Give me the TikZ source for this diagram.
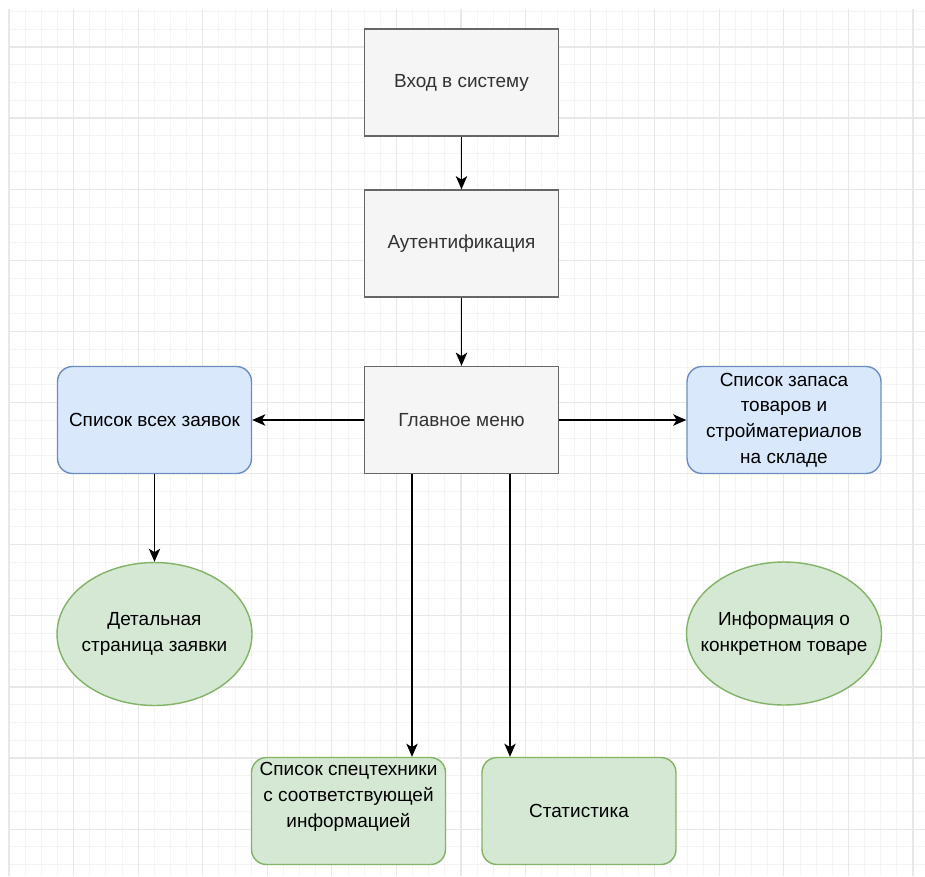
\documentclass[tikz,border=0pt]{standalone}
\usepackage{fontspec}
\setmainfont{Liberation Sans}
\usepackage{tikz}
\usetikzlibrary{shapes.geometric,arrows.meta,positioning}
\definecolor{grisBord}{HTML}{666666}
\definecolor{grisFond}{HTML}{F5F5F5}
\definecolor{grisTexte}{HTML}{333333}
\definecolor{bleuBord}{HTML}{6C8EBF}
\definecolor{bleuFond}{HTML}{DAE8FC}
\definecolor{vertBord}{HTML}{82B366}
\definecolor{vertFond}{HTML}{D5E8D4}
\definecolor{grilleFine}{HTML}{F4F4F4}
\definecolor{grilleForte}{HTML}{E8E8E8}

\tikzset{
  etape/.style={draw=grisBord, fill=grisFond, text=grisTexte, line width=0.8pt,
                minimum width=3.88cm, minimum height=2.14cm, align=center},
  menubleu/.style={draw=bleuBord, fill=bleuFond, line width=0.8pt, rounded corners=0.3cm,
                minimum width=3.88cm, minimum height=2.14cm, align=center},
  menuvert/.style={draw=vertBord, fill=vertFond, line width=0.8pt, rounded corners=0.3cm,
                minimum width=3.88cm, minimum height=2.14cm, align=center},
  page/.style={ellipse, draw=vertBord, fill=vertFond, line width=0.8pt,
                minimum width=3.9cm, minimum height=2.86cm, inner xsep=-1cm, inner ysep=0pt,
                align=center},
  fleche/.style={-{Stealth[length=7.5pt, width=6.5pt, inset=2pt]}, line width=0.75pt, black}
}

\begin{document}
\begin{tikzpicture}[x=0.02cm, y=-0.02cm, font=\fontsize{10.8}{14.7}\selectfont]
\useasboundingbox (0,0) rectangle (925,876);
\fill[white] (0,0) rectangle (925,876);

% Grille
\foreach \i in {0,...,57}
  \draw[grilleFine, line width=0.5pt] ({9+\i*16.143},9) -- ({9+\i*16.143},876);
\foreach \j in {-2,...,46}
  \draw[grilleFine, line width=0.5pt] (9,{47+\j*17.775}) -- (925,{47+\j*17.775});
\foreach \i in {0,...,14}
  \draw[grilleForte, line width=0.7pt] ({9+\i*64.57},9) -- ({9+\i*64.57},876);
\foreach \j in {0,...,11}
  \draw[grilleForte, line width=0.7pt] (9,{47+\j*71.1}) -- (925,{47+\j*71.1});

% Etapes centrales
\node[etape] (entree) at (461.5,82.5) {Вход в систему};
\node[etape] (auth) at (461.5,243.5) {Аутентификация};
\node[etape] (menu) at (461.5,420) {Главное меню};

% Listes
\node[menubleu] (zayavki) at (154.5,420) {Список всех заявок};
\node[menubleu] (sklad) at (784,420) {Список запаса\\товаров и\\стройматериалов\\на складе};

% Pages
\node[page] (detail) at (154.5,634) {Детальная\\страница заявки};
\node[page] (tovar) at (784,633.5) {Информация о\\конкретном товаре};

% Ligne du bas
\node[menuvert] (tehnika) at (348.5,811) {};
\node[align=center] (tehnikaTxt) at (348.5,797) {Список спецтехники\\с соответствующей\\информацией};
\node[menuvert] (stat) at (579,811) {Статистика};

% Flèches verticales
\draw[fleche] (entree) -- (auth);
\draw[fleche] (auth) -- (menu);
\draw[fleche] (zayavki) -- (detail);
\draw[fleche] (menu.south -| 412,0) -- (tehnika.north -| 412,0);
\draw[fleche] (menu.south -| 510,0) -- (stat.north -| 510,0);

% Flèches horizontales
\draw[fleche] (menu) -- (zayavki);
\draw[fleche] (menu) -- (sklad);

\end{tikzpicture}
\end{document}
